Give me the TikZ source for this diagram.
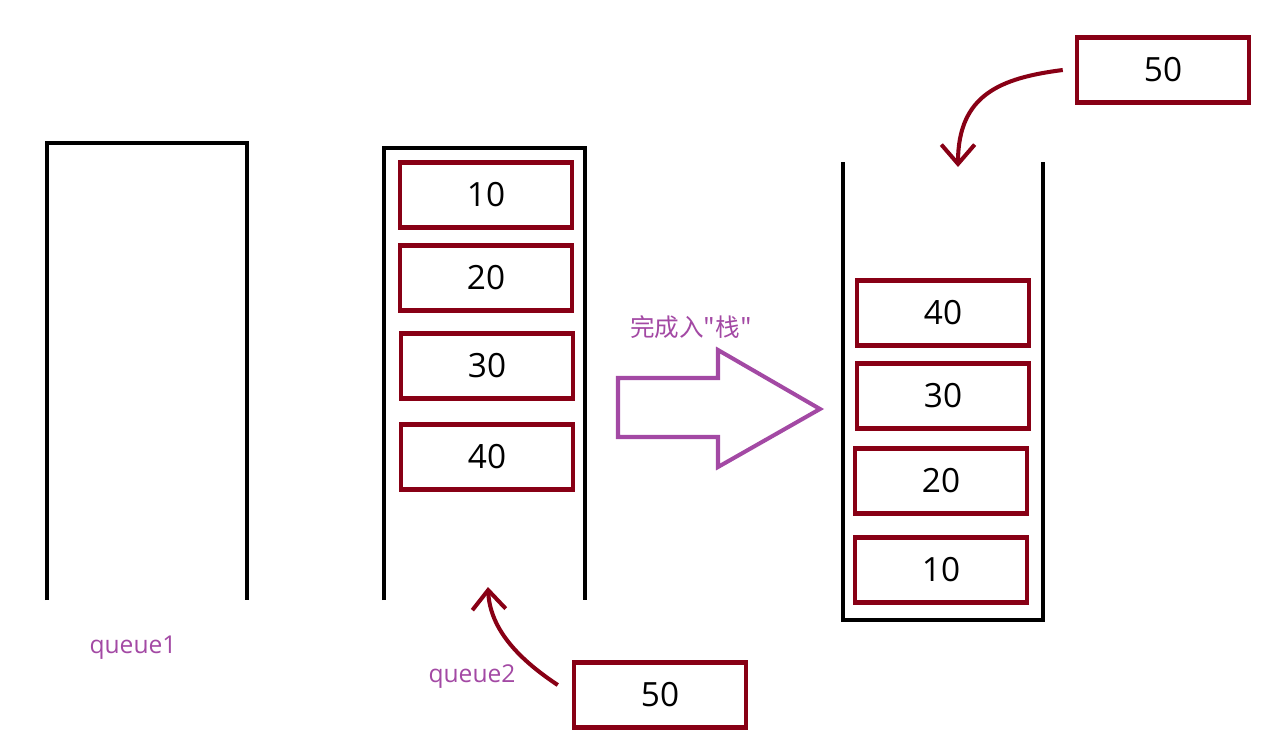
\documentclass[tikz,border=0pt]{standalone}
\usepackage{fontspec}
\setmainfont{Open Sans}
\newfontfamily\cjk{Noto Sans CJK SC}
\usepackage{tikz}
\usetikzlibrary{arrows.meta}
\definecolor{darkred}{RGB}{136,0,21}
\definecolor{paintpurple}{RGB}{163,73,164}

\begin{document}
\begin{tikzpicture}[x=0.02cm,y=-0.02cm,
  wall/.style={line width=2.3pt,black},
  elem/.style={draw=darkred,line width=2.3pt,minimum width=3.45cm,minimum height=1.3cm,font=\fontsize{19}{22}\selectfont,inner sep=0pt},
  tag/.style={text=paintpurple,font=\fontsize{14}{16}\selectfont},
  push/.style={darkred,line width=2.3pt,-{Straight Barb[length=11pt,width=19pt,line width=2.3pt]}}]
\useasboundingbox (0,0) rectangle (1270,750);
% the two queues and the stack
\draw[wall] (47,600) -- (47,143) -- (247,143) -- (247,600);
\draw[wall] (384,600) -- (384,148) -- (585,148) -- (585,600);
\draw[wall] (843,162) -- (843,620) -- (1043,620) -- (1043,162);
% queue2 contents
\node[elem] (q10) at (486,195) {10};
\node[elem] (q20) at (486,278) {20};
\node[elem] (q30) at (487,366) {30};
\node[elem] (q40) at (487,457) {40};
% stack contents
\node[elem] (s40) at (943,313) {40};
\node[elem] (s30) at (943,396) {30};
\node[elem] (s20) at (941,481) {20};
\node[elem] (s10) at (941,570) {10};
% new element
\node[elem] (top50) at (1163,70) {50};
\node[elem] (bot50) at (660,695) {50};
\coordinate (stackin) at (958,167);
\coordinate (queuein) at (488,587);
\draw[push] ([xshift=-0.24cm]top50.west) .. controls (1000,78) and (958,95) .. (stackin);
\draw[push] ([xshift=-0.28cm,yshift=0.2cm]bot50.west) .. controls (520,660) and (490,630) .. (queuein);
% big arrow
\draw[paintpurple,line width=2.3pt,line join=miter] (618,378) -- (718,378) -- (718,350) -- (820,409) -- (718,467) -- (718,437) -- (618,437) -- cycle;
\node[tag,font=\cjk\fontsize{14}{16}\selectfont] (done) at (691,327) {完成入"栈"};
\node[tag] (name1) at (133,648) {queue1};
\node[tag] (name2) at (472,677) {queue2};
\end{tikzpicture}
\end{document}
